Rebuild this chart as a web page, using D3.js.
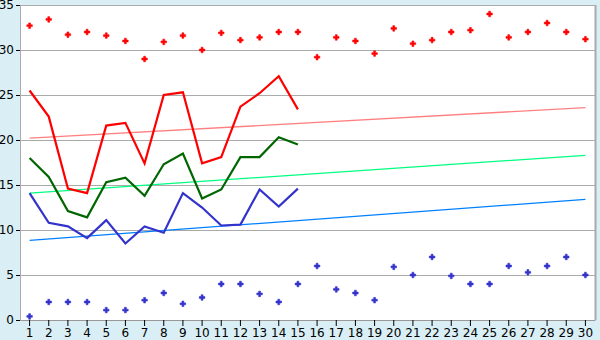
<!DOCTYPE html>
<html>
<head>
<meta charset="utf-8">
<script src="https://cdn.jsdelivr.net/npm/d3@7"></script>
<style>
  body { margin: 0; background: #d9eff5; }
  svg { display: block; }
  .tick text { font-family: "DejaVu Sans", Verdana, sans-serif; font-size: 12px; fill: #000; }
</style>
</head>
<body>
<svg width="600" height="340"></svg>
<script>
// days along the bottom
const days = d3.range(1, 31);

// lines (first 15 days only)
const redLine = [25.5, 22.6, 14.6, 14.1, 21.6, 21.9, 17.4, 25.0, 25.3, 17.4, 18.1, 23.7, 25.2, 27.1, 23.4];
const greenLine = [18.0, 15.9, 12.1, 11.4, 15.3, 15.8, 13.8, 17.3, 18.5, 13.5, 14.5, 18.1, 18.1, 20.3, 19.5];
const blueLine = [14.1, 10.8, 10.4, 9.1, 11.1, 8.5, 10.4, 9.7, 14.1, 12.5, 10.5, 10.6, 14.5, 12.6, 14.6];

// scatter points
const redPoints = [32.7, 33.4, 31.7, 32.0, 31.6, 31.0, 29.0, 30.9, 31.6, 30.0,
                   31.9, 31.1, 31.4, 32.0, 32.0, 29.2, 31.4, 31.0, 29.6, 32.4,
                   30.7, 31.1, 32.0, 32.2, 34.0, 31.4, 32.0, 33.0, 32.0, 31.2];
const bluePoints = [0.4, 2.0, 2.0, 2.0, 1.1, 1.1, 2.2, 3.0, 1.8, 2.5,
                    4.0, 4.0, 2.9, 2.0, 4.0, 6.0, 3.4, 3.0, 2.2, 5.9,
                    5.0, 7.0, 4.9, 4.0, 4.0, 6.0, 5.3, 6.0, 7.0, 5.0];

// trend lines: value at day 1 and day 30
const trendStart = [20.2, 14.1, 8.85];
const trendEnd = [23.6, 18.3, 13.4];
const trendColors = ["#ff8080", "#00ff80", "#0080ff"];

const yTicks = [0, 5, 10, 15, 20, 25, 30, 35];

const svg = d3.select("svg");
const margin = { top: 5, right: 5, bottom: 20, left: 20 };
const width = +svg.attr("width") - margin.left - margin.right;
const height = +svg.attr("height") - margin.top - margin.bottom;

const x = d3.scaleBand()
    .domain(days)
    .range([0, width]);
const cx = d => x(d) + x.bandwidth() / 2;

const y = d3.scaleLinear()
    .domain([0, 35])
    .range([height, 0]);

const g = svg.append("g")
    .attr("transform", `translate(${margin.left},${margin.top})`);

g.append("rect")
    .attr("width", width)
    .attr("height", height)
    .attr("fill", "#fff");

// horizontal grid
g.append("g")
    .selectAll("line")
    .data(yTicks.filter(t => t > 0))
    .enter().append("line")
    .attr("x1", 0)
    .attr("x2", width)
    .attr("y1", d => Math.round(y(d)) + 0.5)
    .attr("y2", d => Math.round(y(d)) + 0.5)
    .attr("stroke", "#aaa");

// right border
g.append("line")
    .attr("x1", width + 0.5).attr("x2", width + 0.5)
    .attr("y1", 0).attr("y2", height)
    .attr("stroke", "#aaa")
    .attr("stroke-width", 2);

// left axis
const yAxis = g.append("g")
    .call(d3.axisLeft(y).tickValues(yTicks).tickSize(4).tickPadding(2));
yAxis.select(".domain").attr("stroke", "#aaa");
yAxis.selectAll(".tick line").attr("stroke", "#000");

// bottom axis
const xAxis = g.append("g")
    .attr("transform", `translate(0,${height})`)
    .call(d3.axisBottom(x).tickSize(6).tickPadding(2).tickSizeOuter(0));
xAxis.select(".domain").attr("stroke", "#999");
xAxis.selectAll(".tick line").attr("stroke", "#000");

// trend lines
g.selectAll(".trend")
    .data(trendStart)
    .enter().append("line")
    .attr("class", "trend")
    .attr("x1", cx(days[0]))
    .attr("x2", cx(days[days.length - 1]))
    .attr("y1", d => y(d))
    .attr("y2", (d, i) => y(trendEnd[i]))
    .attr("stroke", (d, i) => trendColors[i])
    .attr("stroke-width", 1.3);

// lines
const line = d3.line()
    .x((d, i) => cx(days[i]))
    .y(d => y(d));

[[redLine, "#ff0000"], [greenLine, "#006600"], [blueLine, "#3333cc"]].forEach(([data, color]) => {
    g.append("path")
        .datum(data)
        .attr("d", line)
        .attr("fill", "none")
        .attr("stroke", color)
        .attr("stroke-width", 2.2);
});

// points
const sym = d3.symbol().type(d3.symbolCross).size(17);
[[redPoints, "#ff0000"], [bluePoints, "#3333cc"]].forEach(([data, color]) => {
    g.append("g")
        .selectAll("path")
        .data(data)
        .enter().append("path")
        .attr("d", sym)
        .attr("transform", (d, i) => `translate(${cx(days[i])},${y(d)})`)
        .attr("fill", color)
        .attr("stroke", color)
        .attr("stroke-width", 0.6);
});
</script>
</body>
</html>
